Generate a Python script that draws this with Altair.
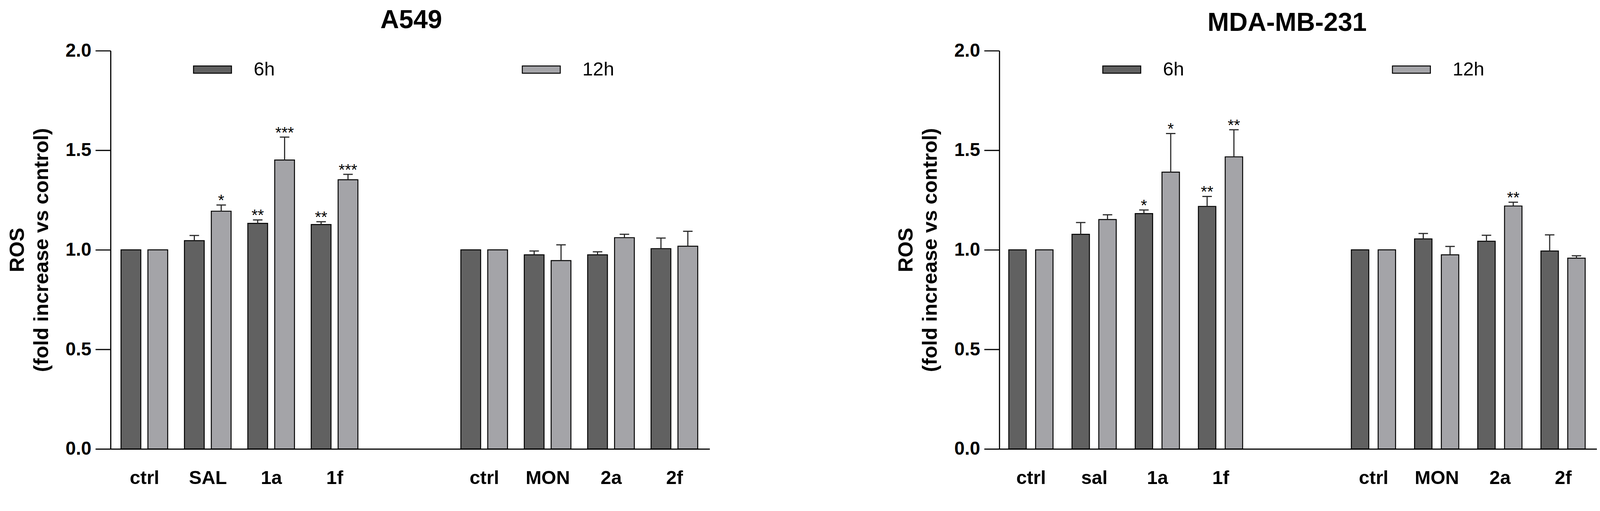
import altair as alt
import pandas as pd

FONT = "Liberation Sans"

# ---------------- data ----------------
a549_labels = ["ctrl", "SAL", "1a", "1f", "ctrl", "MON", "2a", "2f"]
a549_6h = [1.00, 1.046, 1.133, 1.127, 1.00, 0.975, 0.975, 1.006]
a549_6h_err = [0.0, 0.026, 0.017, 0.014, 0.0, 0.019, 0.015, 0.053]
a549_6h_sig = ["", "", "**", "**", "", "", "", ""]
a549_12h = [1.00, 1.194, 1.451, 1.352, 1.00, 0.946, 1.061, 1.018]
a549_12h_err = [0.0, 0.031, 0.115, 0.027, 0.0, 0.079, 0.017, 0.075]
a549_12h_sig = ["", "*", "***", "***", "", "", "", ""]

mda_labels = ["ctrl", "sal", "1a", "1f", "ctrl", "MON", "2a", "2f"]
mda_6h = [1.00, 1.078, 1.182, 1.218, 1.00, 1.055, 1.043, 0.994]
mda_6h_err = [0.0, 0.059, 0.018, 0.050, 0.0, 0.027, 0.030, 0.081]
mda_6h_sig = ["", "", "*", "**", "", "", "", ""]
mda_12h = [1.00, 1.152, 1.390, 1.467, 1.00, 0.975, 1.220, 0.958]
mda_12h_err = [0.0, 0.024, 0.194, 0.136, 0.0, 0.042, 0.019, 0.012]
mda_12h_sig = ["", "", "*", "**", "", "", "**", ""]

series = ["6h", "12h"]
colors = ["#616161", "#a4a4a8"]
y_ticks = [0.0, 0.5, 1.0, 1.5, 2.0]

PLOT_H = 1048


def panel(labels, v6, e6, s6, v12, e12, s12, title, gap, dom, width,
          half, legend_x, col_pad, title_dx, title_offset):
    rows = []
    for i in range(len(labels)):
        rows.append(dict(idx=i, time="6h", value=v6[i], err=e6[i], sig=s6[i]))
        rows.append(dict(idx=i, time="12h", value=v12[i], err=e12[i], sig=s12[i]))
    df = pd.DataFrame(rows)

    off = 0.212
    cap = 0.075
    base = alt.Chart(df).transform_calculate(
        pos=f"datum.idx + (datum.idx >= 4 ? {gap} : 0) + (datum.time == '6h' ? -{off} : {off})"
    ).transform_calculate(
        xl=f"datum.pos - {half}",
        xr=f"datum.pos + {half}",
        top="datum.value + datum.err",
        cl=f"datum.pos - {cap}",
        cr=f"datum.pos + {cap}",
    )

    tick_pos = [i + (gap if i >= 4 else 0) for i in range(len(labels))]
    arr = "[" + ",".join(f"'{l}'" for l in labels) + "]"
    label_expr = f"{arr}[round(datum.value > 3.5 ? datum.value - {gap} : datum.value)]"

    xscale = alt.Scale(domain=dom, nice=False, zero=False)
    xaxis = alt.Axis(values=tick_pos, labelExpr=label_expr, ticks=False,
                     domainColor="black", domainWidth=3, grid=False, title=None,
                     labelFont=FONT, labelFontSize=50, labelFontWeight="bold",
                     labelColor="black", labelPadding=52, labelFlush=False,
                     labelOverlap=False, labelBound=False)
    yscale = alt.Scale(domain=[0, 2], nice=False, zero=True)
    yaxis = alt.Axis(values=y_ticks, format=".1f", grid=False,
                     labelFont=FONT, labelFontSize=49, labelFontWeight="bold",
                     labelColor="black", labelPadding=11,
                     tickSize=40, tickWidth=3, tickColor="black",
                     domainColor="black", domainWidth=3,
                     title=["ROS", "(fold increase vs control)"],
                     titleFont=FONT, titleFontSize=54, titleFontWeight="bold",
                     titleColor="black", titleLineHeight=64, titlePadding=35)

    legend = alt.Legend(title=None, orient="none", legendX=legend_x, legendY=-2,
                        direction="horizontal", columns=2, columnPadding=col_pad,
                        symbolType="M-1,-0.19L1,-0.19L1,0.19L-1,0.19Z",
                        symbolSize=10000, symbolStrokeColor="black",
                        symbolStrokeWidth=2.5, symbolOpacity=1,
                        labelFont=FONT, labelFontSize=50, labelColor="black",
                        labelOffset=57, padding=0)

    bars = base.mark_rect(stroke="black", strokeWidth=2.5).encode(
        x=alt.X("xl:Q", scale=xscale, axis=xaxis),
        x2="xr:Q",
        y=alt.Y("value:Q", scale=yscale, axis=yaxis),
        y2=alt.datum(0),
        color=alt.Color("time:N", scale=alt.Scale(domain=series, range=colors),
                        legend=legend),
    )
    errs = base.transform_filter("datum.err > 0")
    stem = errs.mark_rule(color="#2a2a2a", strokeWidth=3).encode(
        x=alt.X("pos:Q", scale=xscale, axis=xaxis),
        y=alt.Y("value:Q", scale=yscale, axis=yaxis),
        y2="top:Q",
    )
    caps = errs.mark_rule(color="#2a2a2a", strokeWidth=3).encode(
        x=alt.X("cl:Q", scale=xscale, axis=xaxis),
        x2="cr:Q",
        y=alt.Y("top:Q", scale=yscale, axis=yaxis),
    )
    stars = base.transform_filter("datum.sig != ''").mark_text(
        font=FONT, fontSize=42, baseline="alphabetic", dy=2, color="black"
    ).encode(
        x=alt.X("pos:Q", scale=xscale, axis=xaxis),
        y=alt.Y("top:Q", scale=yscale, axis=yaxis),
        text="sig:N",
    )

    return alt.layer(bars, stem, caps, stars).properties(
        width=width, height=PLOT_H,
        title=alt.TitleParams(text=title, font=FONT, fontSize=68, fontWeight="bold",
                              color="black", anchor="middle", frame="group",
                              offset=title_offset, dx=title_dx),
    )


left = panel(a549_labels, a549_6h, a549_6h_err, a549_6h_sig,
             a549_12h, a549_12h_err, a549_12h_sig, "A549",
             gap=1.36, dom=[-0.533, 8.916], width=1578, half=0.156,
             legend_x=217, col_pad=646, title_dx=3, title_offset=21)
right = panel(mda_labels, mda_6h, mda_6h_err, mda_6h_sig,
              mda_12h, mda_12h_err, mda_12h_sig, "MDA-MB-231",
              gap=1.42, dom=[-0.5, 8.955], width=1574, half=0.138,
              legend_x=271, col_pad=543, title_dx=-29, title_offset=14)

chart = alt.hconcat(left, right, spacing=490).resolve_scale(
    color="independent"
).properties(
    padding={"left": 10, "top": -6, "right": 0, "bottom": 0}
).configure_view(stroke=None)

chart.save("out.html", embed_options={"renderer": "svg", "actions": False})
